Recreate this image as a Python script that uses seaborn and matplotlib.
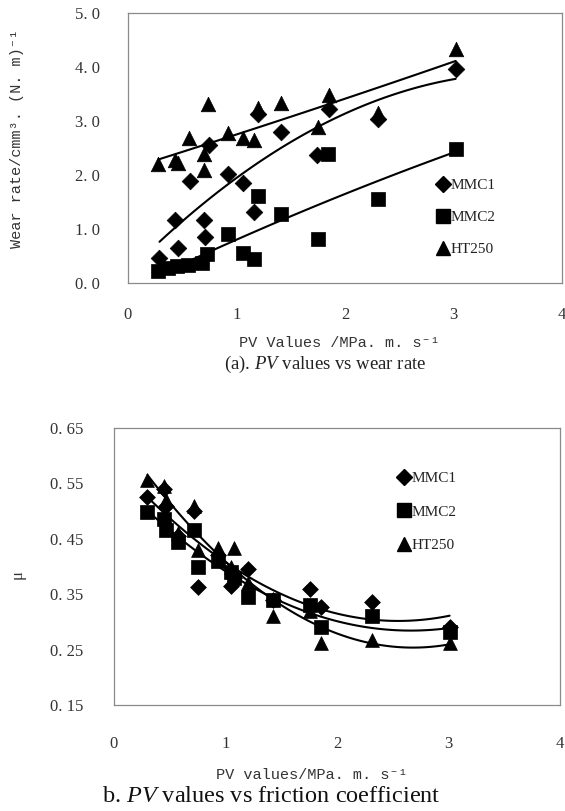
import numpy as np
import pandas as pd
import matplotlib
matplotlib.use("Agg")
import matplotlib.pyplot as plt
import seaborn as sns
from matplotlib.lines import Line2D

sns.set_theme(style="white")
plt.rcParams['font.family'] = ['Liberation Serif', 'DejaVu Serif']
plt.rcParams['mathtext.fontset'] = 'custom'
plt.rcParams['mathtext.rm'] = 'Liberation Serif'
plt.rcParams['mathtext.it'] = 'Liberation Serif:italic'

# ---------------- data: (a) wear rate ----------------
series_names = ["MMC1", "MMC2", "HT250"]
marker_map = {"MMC1": "D", "MMC2": "s", "HT250": "^"}
marker_scale = {"MMC1": 0.72, "MMC2": 1.0, "HT250": 1.1}

wear_mmc1_x = [0.29, 0.43, 0.46, 0.57, 0.70, 0.71, 0.75, 0.92, 1.06, 1.16, 1.20, 1.41, 1.74, 1.85, 2.30, 3.02]
wear_mmc1_y = [0.47, 1.16, 0.65, 1.88, 1.17, 0.86, 2.56, 2.01, 1.85, 1.31, 3.13, 2.80, 2.37, 3.23, 3.03, 3.97]
wear_mmc2_x = [0.28, 0.37, 0.45, 0.55, 0.68, 0.73, 0.92, 1.06, 1.16, 1.20, 1.41, 1.75, 1.84, 2.30, 3.02]
wear_mmc2_y = [0.22, 0.27, 0.31, 0.34, 0.37, 0.54, 0.90, 0.55, 0.45, 1.62, 1.27, 0.82, 2.39, 1.55, 2.49]
wear_ht_x = [0.28, 0.43, 0.46, 0.56, 0.70, 0.70, 0.74, 0.92, 1.06, 1.16, 1.20, 1.41, 1.75, 1.85, 2.30, 3.02]
wear_ht_y = [2.20, 2.27, 2.23, 2.69, 2.09, 2.39, 3.32, 2.78, 2.69, 2.65, 3.25, 3.34, 2.89, 3.49, 3.15, 4.33]

wear_ticks_x = [0, 1, 2, 3, 4]
wear_ticks_y = [0.0, 1.0, 2.0, 3.0, 4.0, 5.0]
wear_ticklabels_y = ["0. 0", "1. 0", "2. 0", "3. 0", "4. 0", "5. 0"]

# ---------------- data: (b) friction coefficient ----------------
fr_mmc1_x = [0.30, 0.45, 0.47, 0.57, 0.72, 0.75, 0.93, 1.05, 1.08, 1.20, 1.43, 1.76, 1.86, 2.31, 3.01]
fr_mmc1_y = [0.525, 0.540, 0.510, 0.455, 0.500, 0.363, 0.420, 0.365, 0.380, 0.395, 0.340, 0.360, 0.327, 0.336, 0.290]
fr_mmc2_x = [0.30, 0.45, 0.47, 0.57, 0.72, 0.75, 0.93, 1.05, 1.08, 1.20, 1.43, 1.76, 1.86, 2.31, 3.01]
fr_mmc2_y = [0.498, 0.485, 0.466, 0.445, 0.466, 0.400, 0.410, 0.390, 0.380, 0.345, 0.340, 0.330, 0.290, 0.310, 0.282]
fr_ht_x = [0.30, 0.45, 0.47, 0.57, 0.72, 0.75, 0.93, 1.05, 1.08, 1.20, 1.43, 1.76, 1.86, 2.31, 3.01]
fr_ht_y = [0.557, 0.545, 0.520, 0.460, 0.510, 0.430, 0.433, 0.400, 0.433, 0.370, 0.310, 0.320, 0.262, 0.267, 0.262]

fr_ticks_x = [0, 1, 2, 3, 4]
fr_ticks_y = [0.15, 0.25, 0.35, 0.45, 0.55, 0.65]
fr_ticklabels_y = ["0. 15", "0. 25", "0. 35", "0. 45", "0. 55", "0. 65"]


def make_df(xs, ys):
    rows = []
    for name, x, y in zip(series_names, xs, ys):
        for a, b in zip(x, y):
            rows.append({"pv": a, "val": b, "series": name})
    return pd.DataFrame(rows)


wear_df = make_df([wear_mmc1_x, wear_mmc2_x, wear_ht_x], [wear_mmc1_y, wear_mmc2_y, wear_ht_y])
fr_df = make_df([fr_mmc1_x, fr_mmc2_x, fr_ht_x], [fr_mmc1_y, fr_mmc2_y, fr_ht_y])

fig = plt.figure(figsize=(5.65, 8.11), dpi=100)

tick_font = dict(family=['Liberation Serif', 'DejaVu Serif'], size=12)
mono = ['Liberation Mono', 'DejaVu Sans Mono']


def style_axes(ax, xticks, yticks, ylabels, xpad, ypad):
    for s in ax.spines.values():
        s.set_color('#8a8a8a')
        s.set_linewidth(0.9)
    ax.set_xticks(xticks)
    ax.set_xticklabels([str(t) for t in xticks], **tick_font)
    ax.set_yticks(yticks)
    ax.set_yticklabels(ylabels, **tick_font)
    ax.tick_params(axis='both', length=0, colors='#333333')
    ax.tick_params(axis='x', pad=xpad)
    ax.tick_params(axis='y', pad=ypad)
    ax.set_xlabel("")
    ax.set_ylabel("")
    ax.grid(False)


def draw(ax, df, msize):
    for name in series_names:
        sub = df[df.series == name]
        sns.scatterplot(data=sub, x="pv", y="val", marker=marker_map[name],
                        color="black", s=msize * marker_scale[name], edgecolor="black",
                        linewidth=0.5, legend=False, ax=ax, zorder=3)
    for name in series_names:
        sub = df[df.series == name]
        sns.regplot(data=sub, x="pv", y="val", order=2, scatter=False, ci=None,
                    color="black", line_kws=dict(lw=1.5, zorder=4), ax=ax)


def legend(ax, anchor, msize, spacing):
    handles = [Line2D([], [], marker=marker_map[n], color='black', ls='none',
                      markersize=msize * np.sqrt(marker_scale[n])) for n in series_names]
    leg = ax.legend(handles, series_names, loc='upper left', bbox_to_anchor=anchor,
                    frameon=False, handlelength=0.7, handletextpad=0.1,
                    labelspacing=spacing, borderaxespad=0,
                    prop=dict(family=['Liberation Serif', 'DejaVu Serif'], size=11))
    for t in leg.get_texts():
        t.set_color('#222222')


# ---------- (a) ----------
ax1 = fig.add_axes([128 / 565, 1 - 283 / 811, (562 - 128) / 565, (283 - 13) / 811])
draw(ax1, wear_df, 100)
ax1.set_xlim(0, 4)
ax1.set_ylim(0, 5)
style_axes(ax1, wear_ticks_x, wear_ticks_y, wear_ticklabels_y, 17, 20)
legend(ax1, (0.70, 0.41), 9.5, 1.2)
ax1.text(-0.255, 0.535, "Wear rate/cmm³. (N. m)⁻¹", rotation=90, transform=ax1.transAxes,
         ha='center', va='center', family=mono, size=11, color='#333333')

fig.text(339 / 565, 1 - 343 / 811, "PV Values /MPa. m. s⁻¹", ha='center', va='center',
         family=mono, size=11, color='#333333')
fig.text(325 / 565, 1 - 364 / 811, r"(a). $\mathit{PV}$ values vs wear rate", ha='center',
         va='center', size=13.5, color='#222222')

# ---------- (b) ----------
ax2 = fig.add_axes([114 / 565, 1 - 705 / 811, (560 - 114) / 565, (705 - 428) / 811])
draw(ax2, fr_df, 90)
ax2.set_xlim(0, 4)
ax2.set_ylim(0.15, 0.65)
style_axes(ax2, fr_ticks_x, fr_ticks_y, fr_ticklabels_y, 22, 22)
legend(ax2, (0.625, 0.865), 9.5, 1.3)
ax2.text(-0.215, 0.47, "μ", rotation=90, transform=ax2.transAxes,
         ha='center', va='center', size=12, color='#333333')

fig.text(312 / 565, 1 - 775 / 811, "PV values/MPa. m. s⁻¹", ha='center', va='center',
         family=mono, size=11, color='#333333')
fig.text(271 / 565, 1 - 797 / 811, r"b. $\mathit{PV}$ values vs friction coefficient",
         ha='center', va='center', size=17.5, color='#111111')

fig.savefig("out.png", dpi=100, facecolor='white')
